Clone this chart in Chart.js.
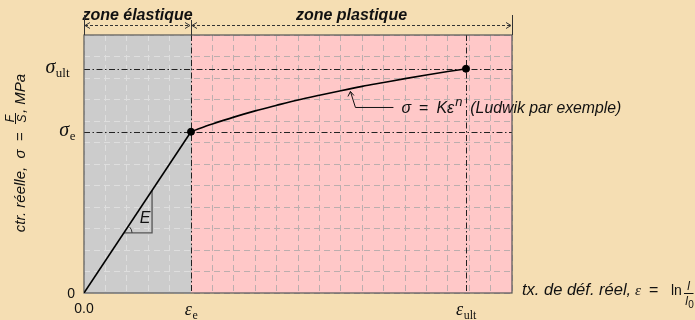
<!DOCTYPE html>
<html>
<head>
<meta charset="utf-8">
<script src="https://cdn.jsdelivr.net/npm/chart.js@4.4.0/dist/chart.umd.min.js"></script>
<style>
  html, body { margin: 0; padding: 0; background: #f5deb3; }
</style>
</head>
<body>
<canvas id="myChart" width="695" height="320"></canvas>
<script>
// values (grid units)
var elasticX = [0, 5];
var elasticY = [0, 7.5];
var plasticX = [5, 5.5, 6, 7, 8, 9, 10, 11, 12, 13, 14, 15, 16, 17, 17.85];
var plasticY = [7.5, 7.69, 7.86, 8.18, 8.47, 8.73, 8.98, 9.2, 9.41, 9.61, 9.79, 9.97, 10.14, 10.3, 10.43];

var epsE = 5, epsUlt = 17.85;
var sigE = 7.5, sigUlt = 10.43;

var xTickVals = [0, epsE, epsUlt];
var xTickMain = ['0.0', 'ε', 'ε'];
var xTickSub = ['', 'e', 'ult'];
var yTickVals = [0, sigE, sigUlt];
var yTickMain = ['0', 'σ', 'σ'];
var yTickSub = ['', 'e', 'ult'];

var zoneNames = ['zone élastique', 'zone plastique'];
var zoneEdges = [0, 5, 20];

var triX = [1.87, 3.18, 3.18];
var triY = [2.8, 2.8, 4.77];
var notePt = [12.45, 9.42];

function pts(xs, ys) {
  var out = [];
  for (var i = 0; i < xs.length; i++) out.push({x: xs[i], y: ys[i]});
  return out;
}

var SANS = '"Liberation Sans", Arial, sans-serif';
var SERIF = '"Liberation Serif", "Times New Roman", serif';

function mathLabel(ctx, main, sub, x, y, align, size) {
  size = size || 18;
  ctx.font = 'italic ' + size + 'px ' + SERIF;
  var w1 = ctx.measureText(main).width;
  ctx.font = Math.round(size * 0.67) + 'px ' + SERIF;
  var w2 = sub ? ctx.measureText(sub).width : 0;
  var tot = w1 + w2;
  var sx = x;
  if (align == 'center') sx = x - tot / 2;
  if (align == 'right') sx = x - tot;
  ctx.textAlign = 'left';
  ctx.textBaseline = 'alphabetic';
  ctx.font = 'italic ' + size + 'px ' + SERIF;
  ctx.fillText(main, sx, y);
  if (sub) {
    ctx.font = Math.round(size * 0.67) + 'px ' + SERIF;
    ctx.fillText(sub, sx + w1 + 0.5, y + 4);
  }
}

function arrowHead(ctx, x, y, dir) {
  ctx.beginPath();
  ctx.moveTo(x - dir * 5, y - 3);
  ctx.lineTo(x, y);
  ctx.lineTo(x - dir * 5, y + 3);
  ctx.stroke();
}

// grid is lighter than the grey zone and darker than the pink one
function gridColor(c) {
  var chart = c.chart, a = chart.chartArea;
  if (!a || !chart.scales.x) return '#c8c0c0';
  var f = (chart.scales.x.getPixelForValue(epsE) - a.left) / (a.right - a.left);
  var g = chart.ctx.createLinearGradient(a.left, 0, a.right, 0);
  g.addColorStop(0, '#dedede');
  g.addColorStop(f, '#dedede');
  g.addColorStop(f, '#bcaeae');
  g.addColorStop(1, '#bcaeae');
  return g;
}

var drawer = {
  id: 'drawer',
  beforeDraw: function(chart) {
    var ctx = chart.ctx, a = chart.chartArea;
    var xs = chart.scales.x;
    ctx.save();
    ctx.fillStyle = '#f5deb3';
    ctx.fillRect(0, 0, chart.width, chart.height);
    ctx.fillStyle = '#cccccc';
    ctx.fillRect(xs.getPixelForValue(zoneEdges[0]), a.top, xs.getPixelForValue(zoneEdges[1]) - xs.getPixelForValue(zoneEdges[0]), a.bottom - a.top);
    ctx.fillStyle = '#ffc8c8';
    ctx.fillRect(xs.getPixelForValue(zoneEdges[1]), a.top, xs.getPixelForValue(zoneEdges[2]) - xs.getPixelForValue(zoneEdges[1]), a.bottom - a.top);
    ctx.restore();
  },
  beforeDatasetsDraw: function(chart) {
    var ctx = chart.ctx, a = chart.chartArea;
    var xs = chart.scales.x, ys = chart.scales.y;
    ctx.save();
    ctx.strokeStyle = '#222';
    ctx.lineWidth = 1;
    ctx.setLineDash([6, 2.5, 1.5, 2.5]);
    [sigE, sigUlt].forEach(function(v) {
      var py = Math.round(ys.getPixelForValue(v)) + 0.5;
      ctx.beginPath(); ctx.moveTo(a.left, py); ctx.lineTo(a.right, py); ctx.stroke();
    });
    [epsE, epsUlt].forEach(function(v) {
      var px = Math.round(xs.getPixelForValue(v)) + 0.5;
      ctx.beginPath(); ctx.moveTo(px, a.top); ctx.lineTo(px, a.bottom); ctx.stroke();
    });
    ctx.setLineDash([]);
    ctx.strokeStyle = '#555';
    ctx.lineWidth = 1.2;
    ctx.strokeRect(a.left, a.top, a.right - a.left, a.bottom - a.top);
    ctx.restore();
  },
  afterDatasetsDraw: function(chart) {
    var ctx = chart.ctx, a = chart.chartArea;
    var xs = chart.scales.x, ys = chart.scales.y;
    ctx.save();
    ctx.fillStyle = '#111';

    // tick labels
    for (var i = 0; i < xTickVals.length; i++) {
      var px = xs.getPixelForValue(xTickVals[i]);
      if (xTickSub[i]) {
        mathLabel(ctx, xTickMain[i], xTickSub[i], px, a.bottom + 22, 'center', 18);
      } else {
        ctx.font = '14px ' + SANS;
        ctx.textAlign = 'center';
        ctx.textBaseline = 'alphabetic';
        ctx.fillText(xTickMain[i], px, a.bottom + 20);
      }
    }
    for (var j = 0; j < yTickVals.length; j++) {
      var py = ys.getPixelForValue(yTickVals[j]);
      if (yTickSub[j]) {
        mathLabel(ctx, yTickMain[j], yTickSub[j], a.left - (j == 2 ? 15 : 9), py + 4, 'right', 20);
      } else {
        ctx.font = '14px ' + SANS;
        ctx.textAlign = 'right';
        ctx.textBaseline = 'alphabetic';
        ctx.fillText(yTickMain[j], a.left - 9, py + 5);
      }
    }

    // zone headers
    ctx.strokeStyle = '#333';
    ctx.lineWidth = 1;
    for (var k = 0; k < zoneNames.length; k++) {
      var x0 = xs.getPixelForValue(zoneEdges[k]);
      var x1 = xs.getPixelForValue(zoneEdges[k + 1]);
      ctx.font = 'italic bold 16px ' + SANS;
      ctx.textAlign = 'center';
      ctx.textBaseline = 'alphabetic';
      ctx.fillText(zoneNames[k], (x0 + x1) / 2, 20);
      ctx.setLineDash([3, 2]);
      ctx.beginPath(); ctx.moveTo(x0 + 1, 25.5); ctx.lineTo(x1 - 1, 25.5); ctx.stroke();
      ctx.setLineDash([]);
      arrowHead(ctx, x0 + 1, 25.5, -1);
      arrowHead(ctx, x1 - 1, 25.5, 1);
    }
    zoneEdges.forEach(function(v, idx) {
      var px = Math.round(xs.getPixelForValue(v)) + 0.5;
      ctx.beginPath(); ctx.moveTo(px, idx == 1 ? 20 : 15); ctx.lineTo(px, a.top); ctx.stroke();
    });

    // slope label and angle arc
    var tx0 = xs.getPixelForValue(triX[0]), ty0 = ys.getPixelForValue(triY[0]);
    ctx.font = 'italic 16px ' + SANS;
    ctx.textAlign = 'center';
    ctx.fillText('E', xs.getPixelForValue(triX[1]) - 7, ys.getPixelForValue(triY[0]) - 10);
    ctx.strokeStyle = '#333';
    ctx.beginPath();
    ctx.arc(tx0, ty0, 8, -Math.atan2(1.5 * ys.getPixelForValue(0) - 1.5 * ys.getPixelForValue(1), 1.5 * (xs.getPixelForValue(1) - xs.getPixelForValue(0))) , 0);
    ctx.stroke();

    // Ludwik annotation
    var nx = xs.getPixelForValue(notePt[0]), ny = ys.getPixelForValue(notePt[1]) + 1;
    ctx.strokeStyle = '#111';
    ctx.lineWidth = 1;
    ctx.beginPath();
    ctx.moveTo(nx, ny);
    ctx.lineTo(nx + 5, ny + 16);
    ctx.lineTo(nx + 43, ny + 16);
    ctx.stroke();
    ctx.beginPath();
    ctx.moveTo(nx - 2.5, ny + 5); ctx.lineTo(nx, ny); ctx.lineTo(nx + 3.5, ny + 4);
    ctx.stroke();
    var bx = nx + 51, by = ny + 22;
    ctx.textAlign = 'left';
    ctx.font = 'italic 16px ' + SANS;
    ctx.fillText('σ', bx, by);
    bx += ctx.measureText('σ').width + 8;
    ctx.font = '16px ' + SANS;
    ctx.fillText('=', bx, by);
    bx += ctx.measureText('=').width + 8;
    ctx.font = 'italic 16px ' + SANS;
    ctx.fillText('Kε', bx, by);
    bx += ctx.measureText('Kε').width + 1;
    ctx.font = 'italic 13px ' + SANS;
    ctx.fillText('n', bx, by - 7);
    bx += ctx.measureText('n').width + 8;
    ctx.font = 'italic 15.8px ' + SANS;
    ctx.fillText('(Ludwik par exemple)', bx, by);

    // x axis title
    var xb = 295;
    ctx.font = 'italic 16.5px ' + SANS;
    ctx.fillText('tx. de déf. réel,', a.right + 10, xb);
    ctx.font = 'italic 15px ' + SERIF;
    ctx.fillText('ε', a.right + 123, xb);
    ctx.font = '16px ' + SANS;
    ctx.fillText('=', a.right + 137, xb);
    ctx.font = '14px ' + SANS;
    ctx.fillText('ln', a.right + 159, xb);
    var fx = a.right + 172;
    ctx.font = 'italic 12px ' + SANS;
    ctx.textAlign = 'center';
    ctx.fillText('l', fx + 4.5, xb - 5);
    ctx.fillText('l', fx + 2.5, xb + 10);
    ctx.font = '10px ' + SANS;
    ctx.fillText('0', fx + 7, xb + 13);
    ctx.beginPath(); ctx.moveTo(fx, xb - 1.5); ctx.lineTo(fx + 9.5, xb - 1.5); ctx.stroke();

    // y axis title
    ctx.translate(25, 153);
    ctx.rotate(-Math.PI / 2);
    ctx.textAlign = 'left';
    ctx.font = 'italic 15px ' + SANS;
    var p1 = 'ctr. réelle,  σ  =  ';
    var p3 = ', MPa';
    var w1 = ctx.measureText(p1).width, w3 = ctx.measureText(p3).width;
    var fw = 11;
    var sx = -(w1 + fw + w3) / 2;
    ctx.fillText(p1, sx, 0);
    ctx.font = 'italic 12px ' + SANS;
    ctx.textAlign = 'center';
    ctx.fillText('F', sx + w1 + fw / 2, -11);
    ctx.fillText('S', sx + w1 + fw / 2, 1);
    ctx.beginPath(); ctx.moveTo(sx + w1, -9.5); ctx.lineTo(sx + w1 + fw, -9.5); ctx.stroke();
    ctx.textAlign = 'left';
    ctx.font = 'italic 15px ' + SANS;
    ctx.fillText(p3, sx + w1 + fw, 0);
    ctx.restore();
  }
};

new Chart(document.getElementById('myChart'), {
  type: 'scatter',
  data: {
    datasets: [
      {
        data: pts(elasticX, elasticY), showLine: true, borderColor: '#000',
        borderWidth: 1.6, pointRadius: 0
      },
      {
        data: pts(plasticX, plasticY), showLine: true, borderColor: '#000',
        borderWidth: 1.6, pointRadius: 0, cubicInterpolationMode: 'monotone'
      },
      {
        data: pts([epsE, epsUlt], [sigE, sigUlt]), showLine: false,
        pointRadius: 3.5, backgroundColor: '#000', borderColor: '#000'
      },
      {
        data: pts(triX, triY), showLine: true, borderColor: '#555',
        borderWidth: 1.3, pointRadius: 0
      }
    ]
  },
  options: {
    responsive: false,
    animation: false,
    events: [],
    layout: { padding: { left: 84, right: 183, top: 35, bottom: 27 } },
    plugins: { legend: { display: false }, tooltip: { enabled: false } },
    scales: {
      x: {
        type: 'linear', min: 0, max: 20,
        ticks: { display: false, stepSize: 1 },
        grid: { color: gridColor, drawTicks: false, lineWidth: 1 },
        border: { display: false, dash: [6, 4] }
      },
      y: {
        type: 'linear', min: 0, max: 12,
        ticks: { display: false, stepSize: 1 },
        grid: { color: gridColor, drawTicks: false, lineWidth: 1 },
        border: { display: false, dash: [6, 4] }
      }
    }
  },
  plugins: [drawer]
});
</script>
</body>
</html>
